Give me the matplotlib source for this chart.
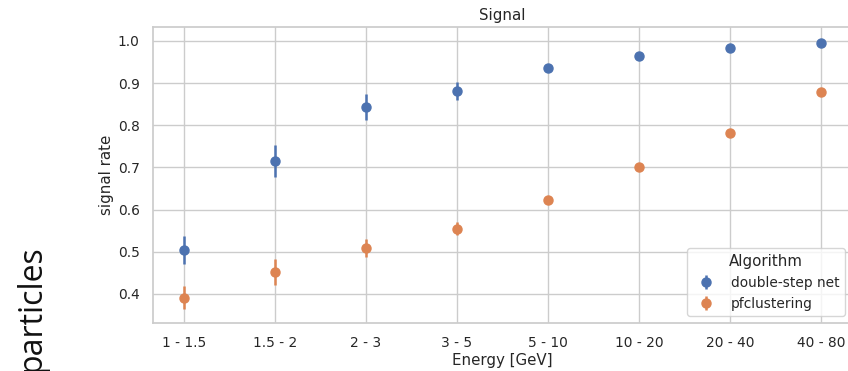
import matplotlib
matplotlib.use("Agg")
import matplotlib.pyplot as plt
import seaborn as sns
import numpy as np

# Energy bins and signal rates per algorithm
energy_bins = ["1 - 1.5", "1.5 - 2", "2 - 3", "3 - 5", "5 - 10", "10 - 20", "20 - 40", "40 - 80"]
double_step = [0.504, 0.715, 0.843, 0.881, 0.935, 0.965, 0.983, 0.996]
double_step_err = [0.033, 0.038, 0.030, 0.022, 0.008, 0.005, 0.004, 0.003]
pfclustering = [0.391, 0.452, 0.509, 0.555, 0.623, 0.700, 0.782, 0.878]
pfclustering_err = [0.027, 0.030, 0.022, 0.016, 0.007, 0.006, 0.005, 0.004]

sns.set_theme(style="whitegrid", context="notebook", font_scale=0.9)
pal = sns.color_palette("deep")

fig = plt.figure(figsize=(8.48, 3.71), dpi=100)
ax = fig.add_axes([153 / 848, 1 - 323 / 371, 699 / 848, 296 / 371])

x = np.arange(len(energy_bins))
ax.errorbar(x, double_step, yerr=double_step_err, fmt="o", color=pal[0],
            markersize=6.5, elinewidth=1.8, capsize=0, label="double-step net")
ax.errorbar(x, pfclustering, yerr=pfclustering_err, fmt="o", color=pal[1],
            markersize=6.5, elinewidth=1.8, capsize=0, label="pfclustering")

ax.set_xticks(x)
ax.set_xticklabels(energy_bins)
ax.set_xlim(-0.34, 7.34)
ax.set_ylim(0.331, 1.033)
ax.set_yticks([0.4, 0.5, 0.6, 0.7, 0.8, 0.9, 1.0])
ax.set_xlabel("Energy [GeV]", labelpad=2)
ax.set_ylabel("signal rate", labelpad=3)
ax.set_title("Signal", pad=5)
ax.legend(title="Algorithm", loc="lower right")

# row label on the left side of the panel
fig.text(32 / 848, 1 - 245 / 371, "particles", rotation=90, ha="center", va="top",
         fontsize=23, family=["Open Sans", "DejaVu Sans"], color="#111111")

fig.savefig("out.png", dpi=100)
